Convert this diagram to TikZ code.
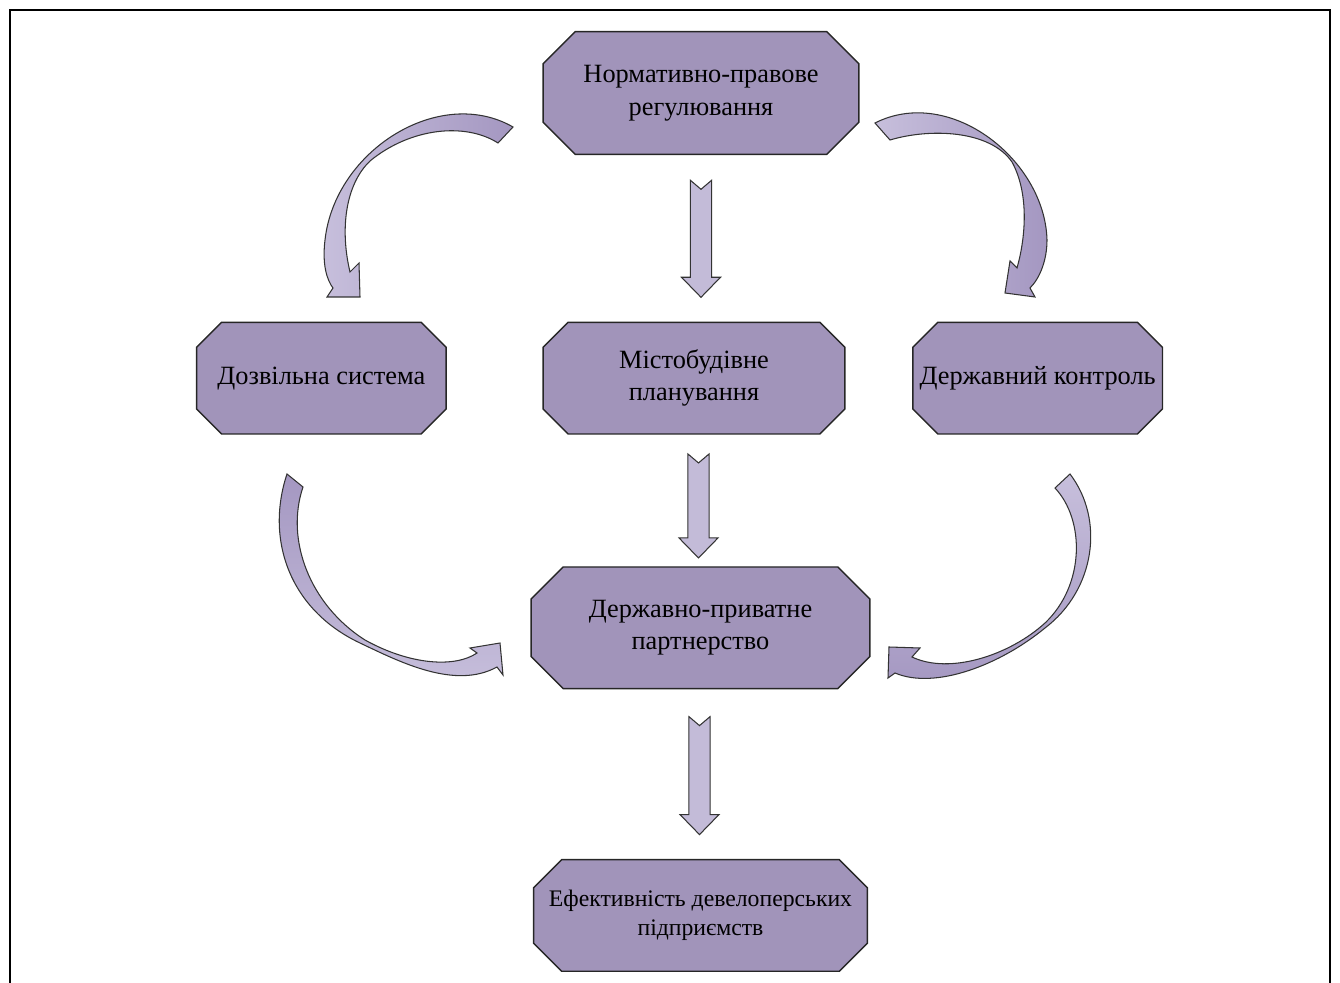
\documentclass[tikz,border=0pt]{standalone}
\usepackage{fontspec}
\setmainfont{Liberation Serif}
\usetikzlibrary{positioning, calc, backgrounds}
\definecolor{boxfill}{HTML}{A194BA}
\definecolor{arrowfill}{HTML}{C3BBD8}
\definecolor{curvedark}{HTML}{A497C1}
\definecolor{curvelight}{HTML}{C7BFDC}
\tikzset{
	x=0.02cm, y=-0.02cm, % one unit is one pixel of the page, y runs downwards
	box/.style={minimum width=6.02cm, minimum height=2.22cm, inner sep=0pt, align=center, font=\fontsize{15}{18.5}\selectfont}, % text part of every block
	boxline/.style={draw=black!85, line width=0.8pt, fill=boxfill}, % octagon behind the text
	flowarrow/.style={draw=black!80, line width=0.6pt, fill=arrowfill}, % straight block arrows
	bendarrow/.style={draw=black!80, line width=0.6pt}, % curved block arrows
	frame/.style={line width=1.2pt},
}
% octagon round a named node, #1 is the cut of the corners
\newcommand{\octagon}[2][28]{%
	\draw[boxline] ($(#2.north west)+(#1,0)$) -- ($(#2.north east)+(-#1,0)$)
		-- ($(#2.north east)+(0,#1)$) -- ($(#2.south east)+(0,-#1)$)
		-- ($(#2.south east)+(-#1,0)$) -- ($(#2.south west)+(#1,0)$)
		-- ($(#2.south west)+(0,-#1)$) -- ($(#2.north west)+(0,#1)$) -- cycle;}
% notched block arrow going down from #1 to #2
\newcommand{\blkarrow}[2]{%
	\draw[flowarrow] let \p1=(#1), \p2=(#2) in
		(\x1-6pt,\y1) -- (\x1,\y1-5.1pt) -- (\x1+6pt,\y1) -- (\x1+6pt,\y2+11.4pt)
		-- (\x1+11.1pt,\y2+11.4pt) -- (\x1,\y2) -- (\x1-11.1pt,\y2+11.4pt)
		-- (\x1-6pt,\y2+11.4pt) -- cycle;}

\begin{document}
\begin{tikzpicture}
	\useasboundingbox (0,0) rectangle (1340,983);
	\draw[frame] (10,983) -- (10,10) -- (1330,10) -- (1330,983);

	\node[box, minimum width=6.3cm, minimum height=2.44cm] (norm) at (701,93) {Нормативно-правове\\регулювання};
	\node[box, below=3.36cm of norm, xshift=-0.14cm] (misto) {Містобудівне\\планування};
	\node[box, minimum width=4.98cm, left=1.94cm of misto] (dozv) {Дозвільна система};
	\node[box, minimum width=4.98cm, right=1.36cm of misto] (derzh) {Державний контроль};
	\node[box, minimum width=6.76cm, minimum height=2.42cm, below=2.66cm of misto, xshift=0.13cm] (dpp) {Державно-приватне\\партнерство};
	\node[box, minimum width=6.66cm, below=3.42cm of dpp, font=\fontsize{13.5}{16.5}\selectfont] (efekt) {Ефективність девелоперських\\підприємств};

	\begin{scope}[on background layer]
		\octagon[32]{norm}
		\octagon[25]{misto}
		\octagon[25]{dozv}
		\octagon[25]{derzh}
		\octagon[32]{dpp}
		\octagon[28]{efekt}
	\end{scope}

	\blkarrow{$(norm.south)+(0,26)$}{$(misto.north)+(0,-25)$}
	\blkarrow{$(misto.south -| dpp.north)+(-2,20)$}{$(dpp.north)+(0,-9)$}
	\blkarrow{$(dpp.south)+(-1,28)$}{$(efekt.north)+(0,-25)$}

	% curved arrows round the middle column
	\draw[bendarrow, left color=curvelight, right color=curvedark] (513,127) .. controls (440,85) and (335,150) .. (325,240)
		.. controls (322,265) and (327,280) .. (333,288) -- (327,297) -- (360,297) -- (359,263) -- (350,272)
		.. controls (340,230) and (345,185) .. (370,161) .. controls (410,128) and (465,122) .. (498,143) -- cycle;
	\draw[bendarrow, left color=curvelight, right color=curvedark] (875,123) .. controls (950,85) and (1045,160) .. (1047,240)
		.. controls (1047,260) and (1040,278) .. (1030,288) -- (1035,297) -- (1005,293) -- (1010,261) -- (1017,268)
		.. controls (1025,240) and (1030,195) .. (1012,162) .. controls (990,130) and (930,128) .. (890,140) -- cycle;
	\draw[bendarrow, top color=curvedark, bottom color=curvelight] (287,474) .. controls (265,540) and (290,610) .. (360,643)
		.. controls (400,662) and (455,690) .. (497,667) -- (503,675) -- (500,643) -- (470,648) -- (477,653)
		.. controls (455,668) and (410,665) .. (365,640) .. controls (310,605) and (285,540) .. (303,487) -- cycle;
	\draw[bendarrow, top color=curvelight, bottom color=curvedark] (1070,474) .. controls (1105,520) and (1095,590) .. (1045,628)
		.. controls (1000,665) and (935,690) .. (895,673) -- (888,678) -- (889,647) -- (920,648) -- (912,657)
		.. controls (950,675) and (1010,655) .. (1045,623) .. controls (1085,585) and (1085,520) .. (1055,488) -- cycle;
\end{tikzpicture}
\end{document}
